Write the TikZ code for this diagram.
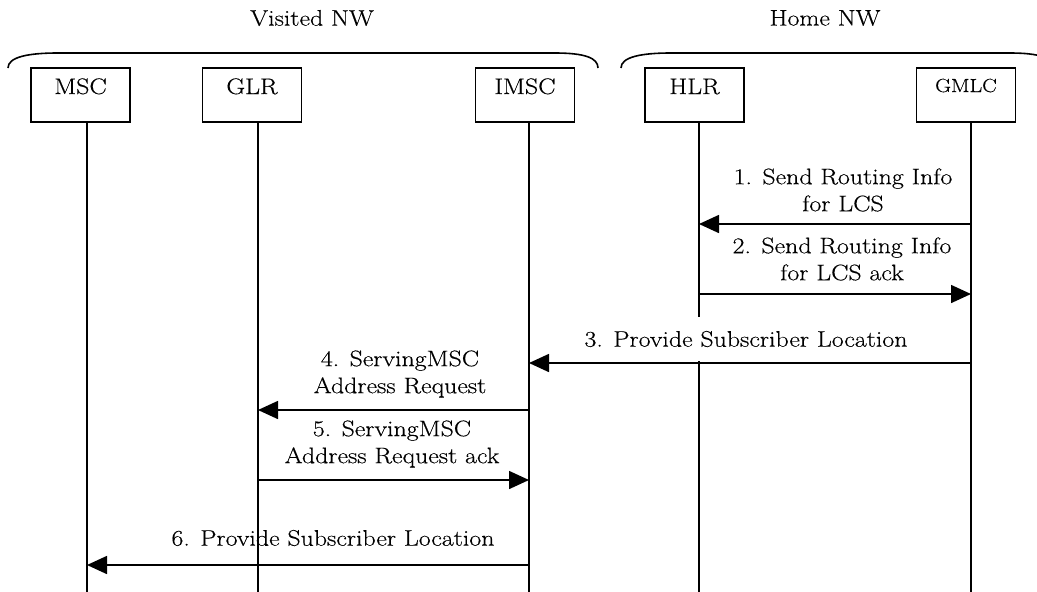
\documentclass[tikz,border=0pt]{standalone}
\usepackage{fontspec}
\setmainfont{Latin Modern Roman}[FakeStretch=1.15,BoldFont={Latin Modern Roman},BoldFeatures={FakeBold=0.35}]
\usetikzlibrary{arrows.meta}
\begin{document}
\begin{tikzpicture}[x=1pt,y=-1pt,
  every node/.style={font=\fontsize{22.5}{27}\selectfont\bfseries},
  entity/.style={draw, line width=1.6pt, minimum width=99pt, inner sep=0pt,
    text height=26pt, text depth=28pt},
  lifeline/.style={line width=1.6pt},
  msg/.style={line width=1.6pt, -{Triangle[length=20pt,width=18pt]}},
  brace/.style={line width=1.6pt},
  lbl/.style={align=center, inner sep=0pt}]
\clip (0,0) rectangle (1037,592);
\fill[white] (0,0) rectangle (1037,592);

% group titles
\node (visited) at (312,18) {Visited NW};
\node (home) at (825,18) {Home NW};

% braces
\draw[brace] (8,68) .. controls (8,57) and (28,53) .. (58,53) -- (555,53)
  .. controls (585,53) and (598,58) .. (598,68);
\draw[brace] (621,68) .. controls (621,57) and (641,53) .. (671,53) -- (1010,53)
  .. controls (1040,53) and (1053,58) .. (1053,68);

% entities
\node[entity] (msc) at (80.5,95) {MSC};
\node[entity] (glr) at (252,95) {GLR};
\node[entity] (imsc) at (525,95) {IMSC};
\node[entity] (hlr) at (694.5,95) {HLR};
\node[entity, font=\fontsize{19}{23}\selectfont\bfseries, text height=24pt, text depth=30pt] (gmlc) at (966,95) {GMLC};

% lifeline bottoms
\coordinate (mscL) at (87,600);
\coordinate (glrL) at (258,600);
\coordinate (imscL) at (529,600);
\coordinate (hlrL) at (699,600);
\coordinate (gmlcL) at (971,600);

\draw[lifeline] (msc.south -| mscL) -- (mscL);
\draw[lifeline] (glr.south -| glrL) -- (glrL);
\draw[lifeline] (imsc.south -| imscL) -- (imscL);
\draw[lifeline] (hlr.south -| hlrL) -- (hlrL);
\draw[lifeline] (gmlc.south -| gmlcL) -- (gmlcL);

% message end points
\coordinate (m1a) at (971,224); \coordinate (m1b) at (699,224);
\coordinate (m2a) at (699,294); \coordinate (m2b) at (971,294);
\coordinate (m3a) at (971,363); \coordinate (m3b) at (529,363);
\coordinate (m4a) at (529,410); \coordinate (m4b) at (258,410);
\coordinate (m5a) at (258,480); \coordinate (m5b) at (529,480);
\coordinate (m6a) at (529,565); \coordinate (m6b) at (87,565);

\draw[msg] (m1a) -- (m1b);
\draw[msg] (m2a) -- (m2b);
\draw[msg] (m3a) -- (m3b);
\draw[msg] (m4a) -- (m4b);
\draw[msg] (m5a) -- (m5b);
\draw[msg] (m6a) -- (m6b);

% labels
\node[lbl] (l1) at (843,190) {1. Send Routing Info\\for LCS};
\node[lbl] (l2) at (842,259) {2. Send Routing Info\\for LCS ack};
\node[lbl, fill=white, minimum height=44pt] (l3) at (746,339) {3. Provide Subscriber Location};
\node[lbl] (l4) at (400,374) {4. ServingMSC\\Address Request};
\node[lbl] (l5) at (392,444) {5. ServingMSC\\Address Request ack};
\node[lbl] (l6) at (333,538) {6. Provide Subscriber Location};
\end{tikzpicture}
\end{document}
